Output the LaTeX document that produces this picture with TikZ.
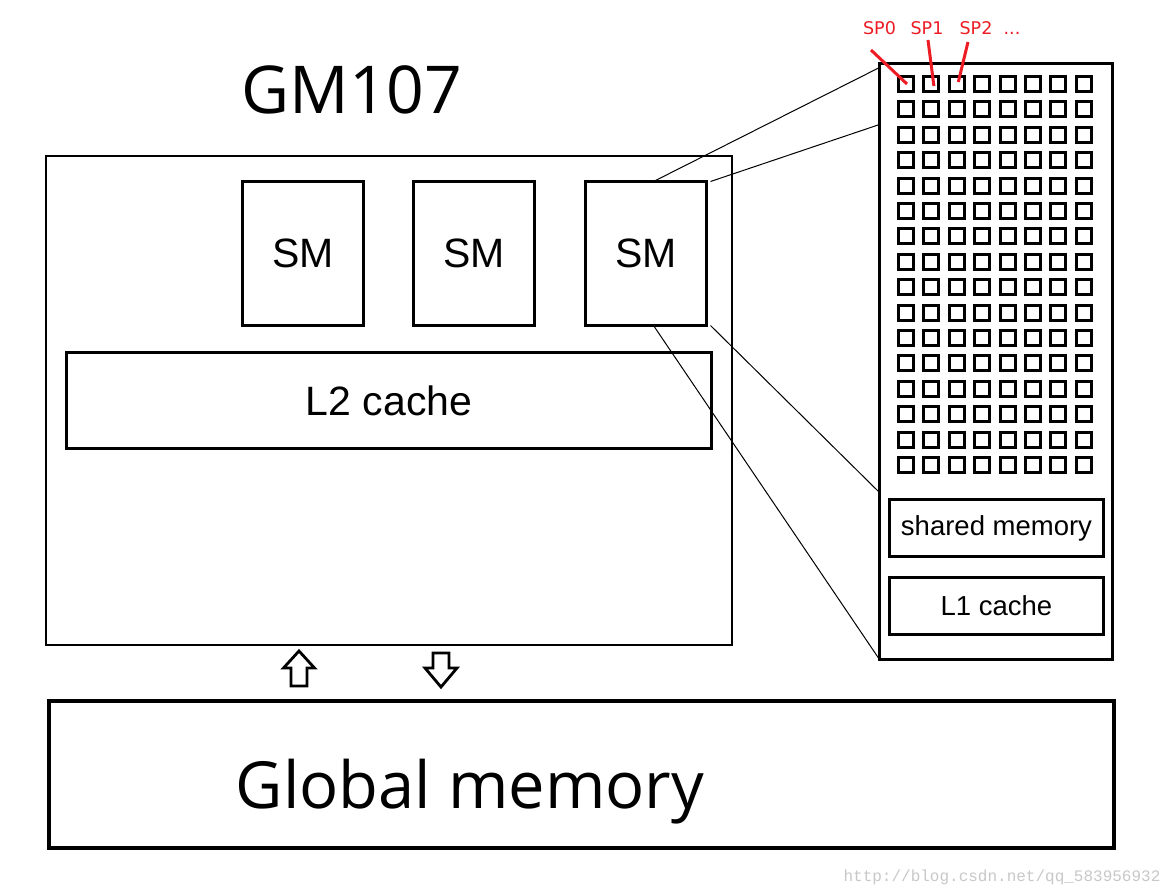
\documentclass[tikz,border=0pt]{standalone}
\usepackage{fontspec}
\setmainfont{Liberation Sans}
\newfontfamily\osans{Open Sans}
\newfontfamily\dsans{DejaVu Sans}
\newfontfamily\lmono{Liberation Mono}
\usetikzlibrary{calc}
\definecolor{spred}{RGB}{237,28,36}
\definecolor{wmgray}{RGB}{200,200,200}
\tikzset{
  box/.style={draw, line width=2.6pt, rectangle, inner sep=0pt, outer sep=0pt, anchor=north west},
  smbox/.style={box, minimum width=121pt, minimum height=144pt, font=\fontsize{41}{41}\selectfont},
  membox/.style={box, minimum width=214pt, minimum height=57pt, font=\fontsize{27.5}{27.5}\selectfont},
  sq/.style={draw, line width=3pt, rectangle, inner sep=0pt, outer sep=0pt, anchor=north west, minimum width=15pt, minimum height=15pt},
  thin/.style={line width=1pt},
  redline/.style={draw=spred, line width=3pt},
  splabel/.style={text=spred, anchor=base, inner sep=0pt, font=\dsans\fontsize{17.5}{17.5}\selectfont},
  blockarrow/.style={draw, line width=2.8pt, fill=white, line join=miter},
}
\begin{document}
\begin{tikzpicture}[x=1pt,y=-1pt]
\useasboundingbox[fill=white] (0,0) rectangle (1168,892);

% title
\node[anchor=base, inner sep=0pt, font=\osans\fontsize{66}{66}\selectfont] (title) at (352,113) {GM107};

% chip box
\node[box, minimum width=686pt, minimum height=489pt] (chip) at (46,156) {};
\node[smbox] (sm1) at (242.5,181.5) {SM};
\node[smbox] (sm2) at (413.5,181.5) {SM};
\node[smbox] (sm3) at (585.5,181.5) {SM};
\node[box, minimum width=645pt, minimum height=96pt, font=\fontsize{41}{41}\selectfont] (l2) at (66.5,352.5) {L2 cache};

% global memory
\node[box, line width=4pt, minimum width=1065pt, minimum height=147pt] (gmem) at (49,701) {};
\node[anchor=base, inner sep=0pt, font=\osans\fontsize{65}{65}\selectfont] (gmtext) at (470,808) {Global memory};

% block arrows
\draw[blockarrow] (299,651) -- (314.5,668) -- (307,668) -- (307,686) -- (291,686) -- (291,668) -- (283.5,668) -- cycle;
\draw[blockarrow] (441,687) -- (425,668) -- (433,668) -- (433,653) -- (449,653) -- (449,668) -- (457,668) -- cycle;

% SM detail
\node[box, minimum width=233pt, minimum height=596pt] (det) at (879.5,63.5) {};
\foreach \i in {0,...,7}{
  \foreach \j in {0,...,15}{
    \node[sq] (sp-\i-\j) at ({898.5+25.4*\i},{76.5+25.4*\j}) {};
  }
}
\node[membox] (shm) at (889.5,499.5) {shared memory};
\node[membox] (l1) at (889.5,577.5) {L1 cache};

% connectors from SM to detail
\coordinate (d1) at ($(det.north west)+(0,4)$);
\coordinate (d2) at ($(det.north west)+(0,61)$);
\coordinate (d3) at ($(det.north west)+(0,429)$);
\coordinate (d4) at (det.south west);
\draw[thin] ($(sm3.north)+(7.5,0)$) -- (d1);
\draw[thin] ($(sm3.north east)+(4,0)$) -- (d2);
\draw[thin] ($(sm3.south east)+(4,0)$) -- (d3);
\draw[thin] ($(sm3.south)+(7.5,0)$) -- (d4);

% SP labels
\node[splabel] (lsp0) at (879.5,34) {SP0};
\node[splabel] (lsp1) at (927,34) {SP1};
\node[splabel] (lsp2) at (976,34) {SP2};
\node[splabel] (ldots) at (1012,34) {...};
\coordinate (r0) at (871,50);
\coordinate (r1) at (928,40);
\coordinate (r2) at (968,42);
\draw[redline] (r0) -- ($(sp-0-0.center)+(1,0)$);
\draw[redline] (r1) -- ($(sp-1-0.center)+(2.5,2)$);
\draw[redline] (r2) -- ($(sp-2-0.center)+(1.5,-2)$);

% watermark
\node[anchor=base, inner sep=0pt, text=wmgray, font=\lmono\fontsize{16}{16}\selectfont] (wm) at (1002,881) {http://blog.csdn.net/qq\_583956932};
\end{tikzpicture}
\end{document}
